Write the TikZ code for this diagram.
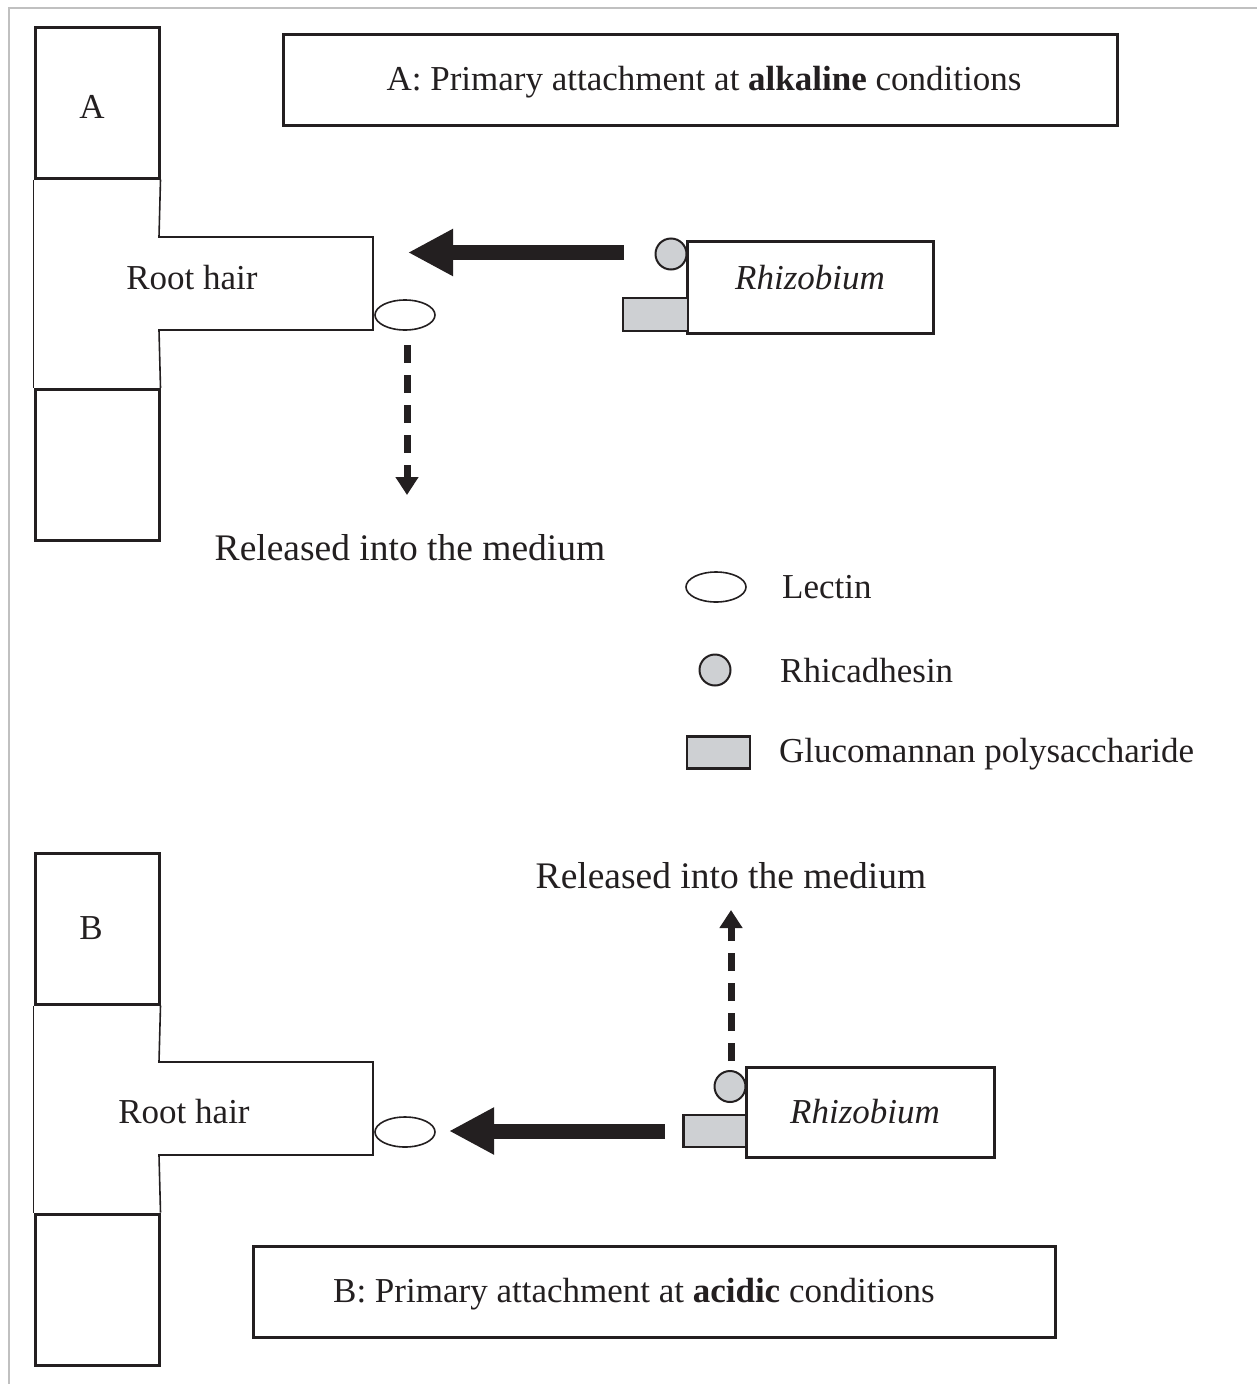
\documentclass[tikz,border=0pt]{standalone}
\usepackage{fontspec}
\setmainfont{Liberation Serif}
\usetikzlibrary{arrows.meta,shapes.geometric}
\definecolor{framegray}{RGB}{192,192,192}
\definecolor{partgray}{RGB}{206,208,211}
\definecolor{ink}{RGB}{35,31,32}

\begin{document}
\begin{tikzpicture}[x=1pt,y=-1pt,
  txt/.style={inner sep=0pt,text=ink,font=\fontsize{35}{42}\selectfont},
  reltxt/.style={inner sep=0pt,text=ink,font=\fontsize{37.5}{45}\selectfont},
  cellbox/.style={draw=ink,line width=3pt,inner sep=0pt,minimum width=124pt,minimum height=151pt},
  titlebox/.style={draw=ink,line width=3pt,inner sep=0pt,minimum height=91pt},
  bactbox/.style={draw=ink,line width=3pt,inner sep=0pt,minimum height=91pt},
  hair/.style={draw=ink,line width=1.6pt},
  lectin/.style={draw=ink,line width=1.6pt,ellipse,inner sep=0pt,minimum width=60pt,minimum height=30pt},
  rhic/.style={draw=ink,line width=2pt,circle,fill=partgray,inner sep=0pt,minimum size=31pt},
  gluco/.style={draw=ink,line width=2.6pt,fill=partgray,inner sep=0pt,minimum width=63pt,minimum height=32pt},
  bigarrow/.style={draw=ink,line width=15pt,-{Triangle[length=45pt,width=44pt]}},
  release/.style={draw=ink,line width=7pt,dash pattern=on 18pt off 12pt,-{Triangle[length=18pt,width=22pt]}}
]
\useasboundingbox (0,0) rectangle (1257,1384);

% outer frame
\draw[framegray,line width=2pt] (9,1384) -- (9,8) -- (1257,8);

% ---------------- Panel A: alkaline ----------------
\node[cellbox] (cellAtop) at (97,102.5) {};
\node[txt] (labA) at (92,107) {A};
\node[cellbox] (cellAbot) at (97,465) {};
\draw[hair] (cellAtop.south west) -- (cellAbot.north west);
\draw[hair] (cellAtop.south east) -- (159,237) -- (373,237) -- (373,330) -- (159,330) -- (cellAbot.north east);
\node[txt] (hairA) at (192,278) {Root hair};

\node[titlebox,minimum width=834pt] (titleA) at (700,79.5) {};
\node[txt] (titleAtxt) at (704,82) {A: Primary attachment at \textbf{alkaline} conditions};

\node[lectin] (lecA) at (405,315) {};
\node[bactbox,minimum width=246pt,minimum height=92pt] (rhizA) at (810,287) {};
\node[txt] (rhizAtxt) at (810,278) {\itshape Rhizobium};
\node[rhic] (rhicA) at (671,254) {};
\node[gluco,minimum width=65pt,minimum height=33pt] (glucoA) at (655.5,314.5) {};

\coordinate (arrAstart) at (624,252.5);
\coordinate (arrAend) at (408,252.5);
\draw[bigarrow] (arrAstart) -- (arrAend);

\node[reltxt] (relA) at (410,548) {Released into the medium};
\coordinate (relAtop) at (407,345);
\coordinate (relAtip) at (407,495);
\draw[release] (relAtop) -- (relAtip);

% ---------------- Legend ----------------
\node[lectin] (legLec) at (716,587) {};
\node[txt,anchor=west] (legLecTxt) at (782,587) {Lectin};
\node[rhic] (legRhic) at (715,670) {};
\node[txt,anchor=west] (legRhicTxt) at (780,671) {Rhicadhesin};
\node[gluco] (legGluco) at (718.5,752.5) {};
\node[txt,anchor=west] (legGlucoTxt) at (779,754) {Glucomannan polysaccharide};

% ---------------- Panel B: acidic ----------------
\node[cellbox] (cellBtop) at (97,928.5) {};
\node[txt] (labB) at (91,928) {B};
\node[cellbox] (cellBbot) at (97,1289.5) {};
\draw[hair] (cellBtop.south west) -- (cellBbot.north west);
\draw[hair] (cellBtop.south east) -- (159,1062) -- (373,1062) -- (373,1155) -- (159,1155) -- (cellBbot.north east);
\node[txt] (hairB) at (184,1112) {Root hair};

\node[lectin] (lecB) at (405,1132) {};
\node[bactbox,minimum width=248pt,minimum height=90pt] (rhizB) at (870,1112) {};
\node[txt] (rhizBtxt) at (865,1112) {\itshape Rhizobium};
\node[rhic] (rhicB) at (730,1086.5) {};
\node[gluco] (glucoB) at (715,1131) {};

\coordinate (arrBstart) at (665,1131);
\coordinate (arrBend) at (449,1131);
\draw[bigarrow] (arrBstart) -- (arrBend);

\node[reltxt] (relB) at (731,876) {Released into the medium};
\coordinate (relBbot) at (731,1061);
\coordinate (relBtip) at (731,910);
\draw[release] (relBbot) -- (relBtip);

\node[titlebox,minimum width=802pt] (titleB) at (654,1291.5) {};
\node[txt] (titleBtxt) at (634,1294) {B: Primary attachment at \textbf{acidic} conditions};

\end{tikzpicture}
\end{document}
